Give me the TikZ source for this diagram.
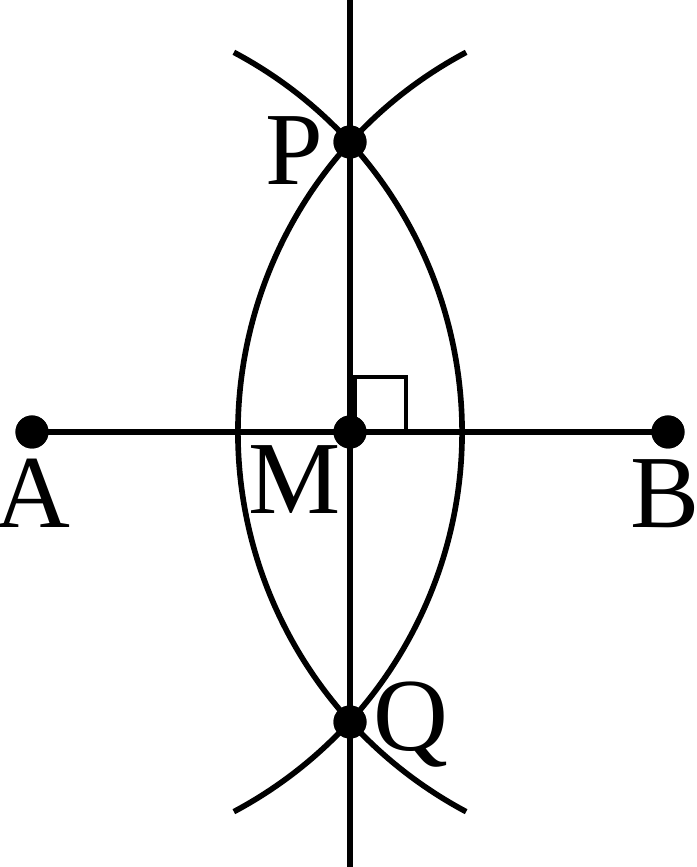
\documentclass[tikz,border=0pt]{standalone}
\usepackage{fontspec}
\setmainfont{Liberation Serif}
\begin{document}
\begin{tikzpicture}[line width=1.6pt,
    pt/.style={circle, fill=black, inner sep=0pt, minimum size=0.33cm},
    lbl/.style={inner sep=0pt, anchor=base, font=\fontsize{29.5}{32}\selectfont}]

    \useasboundingbox (-3.50, -4.35) rectangle (3.47, 4.32);

    % Points of the construction
    \node[pt] (A) at (-3.18, 0) {};
    \node[pt] (B) at (3.18, 0) {};
    \node[pt] (M) at (0, 0) {};
    \node[pt] (P) at (0, 2.90) {};
    \node[pt] (Q) at (0, -2.90) {};
    \coordinate (top) at (0, 4.40);
    \coordinate (bot) at (0, -4.40);

    % Segment and perpendicular bisector
    \draw (A.center) -- (B.center);
    \draw (top) -- (bot);

    % Arcs about A and B
    \draw (A.center) ++(62:4.30) arc (62:-62:4.30);
    \draw (B.center) ++(118:4.30) arc (118:242:4.30);

    % Right angle at M
    \draw[line width=0.9pt] (0.05, 0) -- (0.05, 0.55) -- (0.56, 0.55) -- (0.56, 0);

    \node[pt] at (A) {};
    \node[pt] at (B) {};
    \node[pt] at (M) {};
    \node[pt] at (P) {};
    \node[pt] at (Q) {};

    % Labels
    \node[lbl] (labA) at (-3.17, -0.96) {A};
    \node[lbl] (labB) at (3.15, -0.96) {B};
    \node[lbl] (labM) at (-0.55, -0.82) {M};
    \node[lbl] (labP) at (-0.56, 2.47) {P};
    \node[lbl] (labQ) at (0.61, -3.18) {Q};

\end{tikzpicture}
\end{document}
